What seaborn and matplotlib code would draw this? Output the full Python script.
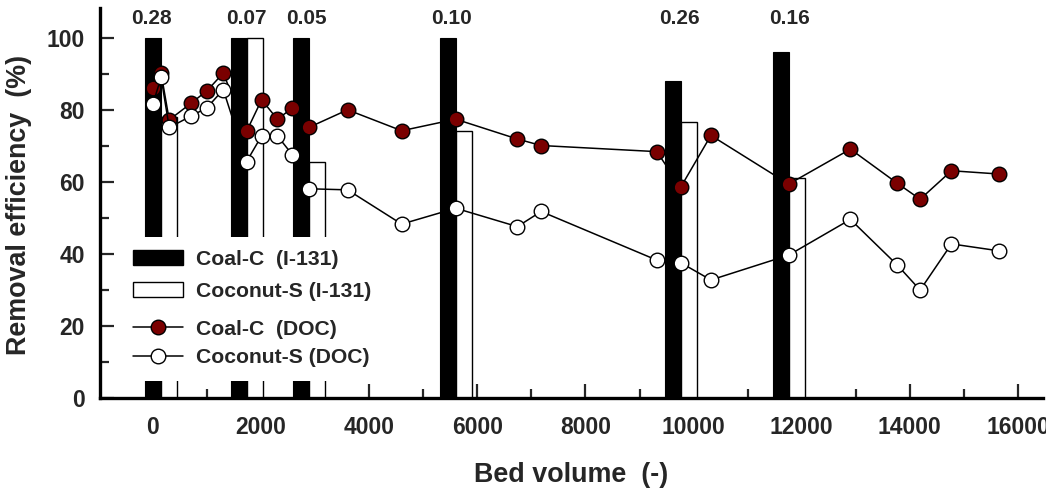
import numpy as np
import pandas as pd
import matplotlib.pyplot as plt
import seaborn as sns
from matplotlib.patches import Patch
from matplotlib.lines import Line2D
from matplotlib.ticker import MultipleLocator

# Config
sns.set_style("white")
plt.rcParams["font.family"] = ["Liberation Sans", "DejaVu Sans"]
plt.rcParams["font.weight"] = "bold"

# I-131 removal (bars)
bar_bv = [0, 1590, 2730, 5450, 9610, 11620]
coal_i131 = [100, 100, 100, 100, 88, 96]
coconut_i131 = [78, 100, 65.5, 74, 76.5, 61]
ratio_labels = ["0.28", "0.07", "0.05", "0.10", "0.26", "0.16"]
ratio_bv = [-20, 1720, 2840, 5530, 9730, 11780]

# DOC removal (lines)
bed_volume = [0, 150, 300, 710, 1000, 1300, 1730, 2010, 2300, 2580, 2880, 3600,
              4600, 5600, 6740, 7180, 9320, 9760, 10320, 11760, 12900, 13770,
              14190, 14770, 15640]
coal_doc = [86.0, 90.2, 77.2, 81.9, 85.3, 90.2, 74.0, 82.8, 77.4, 80.5, 75.1, 80.0,
            74.2, 77.4, 71.9, 70.1, 68.4, 58.5, 72.9, 59.4, 69.1, 59.6, 55.2, 63.1, 62.2]
coconut_doc = [81.7, 89.0, 75.1, 78.3, 80.6, 85.6, 65.6, 72.8, 72.8, 67.5, 58.1, 57.8,
               48.3, 52.7, 47.6, 51.8, 38.3, 37.6, 32.8, 39.7, 49.6, 36.9, 30.0, 42.8, 40.9]

df = pd.DataFrame({"bv": bed_volume, "Coal-C": coal_doc, "Coconut-S": coconut_doc})
bar_w = 296
dark_red = "#7a0000"

fig, ax = plt.subplots(figsize=(10.46, 4.88), dpi=100)
fig.subplots_adjust(left=0.0956, right=0.997, bottom=0.184, top=0.984)

# bars
ax.bar(np.array(bar_bv), coal_i131, width=bar_w, color="black", edgecolor="black",
       linewidth=0.8, zorder=1)
ax.bar(np.array(bar_bv) + bar_w, coconut_i131, width=bar_w, color="white",
       edgecolor="black", linewidth=1.0, zorder=1)

for xb, lab in zip(ratio_bv, ratio_labels):
    ax.text(xb, 105.2, lab, ha="center", va="center", fontsize=15, fontweight="bold")

# lines
sns.lineplot(data=df, x="bv", y="Coal-C", color="black", linewidth=1.1, marker="o",
             markersize=10.5, markerfacecolor=dark_red, markeredgecolor="black",
             markeredgewidth=1.0, estimator=None, sort=False, ax=ax, zorder=3)
sns.lineplot(data=df, x="bv", y="Coconut-S", color="black", linewidth=1.1, marker="o",
             markersize=10.5, markerfacecolor="white", markeredgecolor="black",
             markeredgewidth=1.0, estimator=None, sort=False, ax=ax, zorder=3)

ax.set_xlim(-980, 16460)
ax.set_ylim(0, 108.3)
ax.xaxis.set_major_locator(MultipleLocator(2000))
ax.xaxis.set_minor_locator(MultipleLocator(1000))
ax.yaxis.set_major_locator(MultipleLocator(20))
ax.yaxis.set_minor_locator(MultipleLocator(10))
ax.tick_params(which="major", direction="in", length=10, width=1.6, labelsize=16.5)
ax.tick_params(axis="x", which="major", pad=13)
ax.tick_params(axis="y", which="major", pad=11)
ax.tick_params(which="minor", direction="in", length=6.5, width=1.6)
ax.tick_params(axis="x", which="both", bottom=True)
ax.tick_params(axis="y", which="both", left=True)
for lab in ax.get_xticklabels() + ax.get_yticklabels():
    lab.set_fontweight("bold")

for side in ["top", "right"]:
    ax.spines[side].set_visible(False)
for side in ["left", "bottom"]:
    ax.spines[side].set_linewidth(2.4)
    ax.spines[side].set_color("black")

ax.set_xlabel("Bed volume  (-)", fontsize=19.4, fontweight="bold")
ax.set_ylabel("Removal efficiency  (%)", fontsize=19.4, fontweight="bold")
ax.xaxis.set_label_coords(0.4995, -0.164)
ax.yaxis.set_label_coords(-0.072, 0.495)

# legends
bar_handles = [Patch(facecolor="black", edgecolor="black"),
               Patch(facecolor="white", edgecolor="black", linewidth=1.0)]
leg1 = ax.legend(bar_handles, ["Coal-C  (I-131)", "Coconut-S (I-131)"],
                 loc="upper left", bbox_to_anchor=(0.020, 0.414), fontsize=15.2,
                 handlelength=2.4, handleheight=0.72, handletextpad=0.62,
                 labelspacing=0.6, borderpad=0.65, borderaxespad=0,
                 frameon=True, fancybox=False, facecolor="white", edgecolor="none",
                 framealpha=1)
ax.add_artist(leg1)
line_handles = [Line2D([], [], color="black", linewidth=1.1, marker="o", markersize=10.5,
                       markerfacecolor=dark_red, markeredgecolor="black"),
                Line2D([], [], color="black", linewidth=1.1, marker="o", markersize=10.5,
                       markerfacecolor="white", markeredgecolor="black")]
leg2 = ax.legend(line_handles, ["Coal-C  (DOC)", "Coconut-S (DOC)"],
                 loc="upper left", bbox_to_anchor=(0.020, 0.236), fontsize=15.2,
                 handlelength=2.4, handletextpad=0.62, labelspacing=0.45,
                 borderpad=0.65, borderaxespad=0, frameon=True, fancybox=False,
                 facecolor="white", edgecolor="none", framealpha=1)
leg1.set_zorder(5)
leg2.set_zorder(5)

plt.savefig("out.png", dpi=100)
